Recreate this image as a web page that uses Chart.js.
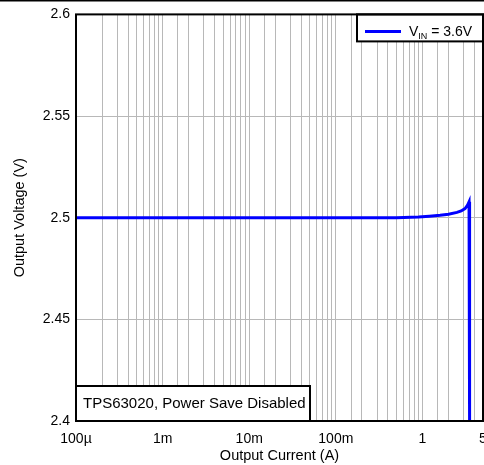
<!DOCTYPE html>
<html>
<head>
<meta charset="utf-8">
<script src="https://cdn.jsdelivr.net/npm/chart.js@4.4.0/dist/chart.umd.min.js"></script>
<style>
  html, body { margin: 0; padding: 0; background: #fff; }
  #wrap { width: 484px; height: 465px; position: relative; }
</style>
</head>
<body>
<div id="wrap"><canvas id="vout"></canvas></div>
<script>
// Output current (A) vs output voltage (V)
const currentA = [0.0001, 0.001, 0.01, 0.1, 0.5, 0.9, 1.2, 1.6, 2.0, 2.5, 2.8, 3.1, 3.3, 3.45, 3.5];
const voltageV = [2.5, 2.5, 2.5, 2.5, 2.5, 2.5003, 2.5007, 2.5012, 2.5017, 2.5026, 2.5033, 2.5045, 2.506, 2.5078, 2.4];

const xTickValues = [0.0001, 0.001, 0.01, 0.1, 1, 5];
const xTickLabels = ['100µ', '1m', '10m', '100m', '1', '5'];
const yTickValues = [2.4, 2.45, 2.5, 2.55, 2.6];
const yTickLabels = ['2.4', '2.45', '2.5', '2.55', '2.6'];

const seriesLabel = { main: 'V', sub: 'IN', rest: ' = 3.6V' };
const noteText = 'TPS63020, Power Save Disabled';

const FONT = 'Liberation Sans, Arial, sans-serif';
const BLUE = '#0000ff';
const GRID = '#b8b8b8';

function findLabel(values, labels, v, useLog) {
  for (let i = 0; i < values.length; i++) {
    const d = useLog ? Math.abs(Math.log10(v) - Math.log10(values[i])) : Math.abs(v - values[i]);
    if (d < 1e-6) return labels[i];
  }
  return '';
}

// legend box, note box and the plot frame
const boxesPlugin = {
  id: 'boxes',
  afterDraw(chart) {
    const { ctx, chartArea: a } = chart;
    ctx.save();

    // note box, bottom left
    const nw = 234, nh = 35;
    ctx.fillStyle = '#fff';
    ctx.fillRect(a.left, a.bottom - nh, nw, nh);
    ctx.strokeStyle = '#000';
    ctx.lineWidth = 2;
    ctx.strokeRect(a.left, a.bottom - nh, nw, nh);
    ctx.fillStyle = '#000';
    ctx.font = '15px ' + FONT;
    ctx.textBaseline = 'middle';
    ctx.textAlign = 'left';
    ctx.fillText(noteText, a.left + 7, a.bottom - 17);

    // legend box, top right
    const lw = 126, lh = 27;
    const lx = a.right - lw, ly = a.top;
    ctx.fillStyle = '#fff';
    ctx.fillRect(lx, ly, lw, lh);
    ctx.strokeRect(lx, ly, lw, lh);
    ctx.strokeStyle = BLUE;
    ctx.lineWidth = 3;
    ctx.beginPath();
    ctx.moveTo(lx + 8, ly + 17);
    ctx.lineTo(lx + 44, ly + 17);
    ctx.stroke();
    ctx.fillStyle = '#000';
    ctx.textBaseline = 'alphabetic';
    ctx.font = '14px ' + FONT;
    let tx = lx + 52;
    ctx.fillText(seriesLabel.main, tx, ly + 22);
    tx += ctx.measureText(seriesLabel.main).width;
    ctx.font = '9px ' + FONT;
    ctx.fillText(seriesLabel.sub, tx, ly + 25);
    tx += ctx.measureText(seriesLabel.sub).width;
    ctx.font = '14px ' + FONT;
    ctx.fillText(seriesLabel.rest, tx, ly + 22);

    // plot frame
    ctx.strokeStyle = '#000';
    ctx.lineWidth = 2;
    ctx.strokeRect(a.left, a.top, a.right - a.left, a.bottom - a.top);

    // thin line along the top of the picture
    ctx.fillStyle = '#000';
    ctx.fillRect(0, 0, chart.width, 1.5);
    ctx.restore();
  }
};

new Chart(document.getElementById('vout'), {
  type: 'line',
  data: {
    datasets: [{
      label: 'VIN = 3.6V',
      data: currentA.map((x, i) => ({ x: x, y: voltageV[i] })),
      borderColor: BLUE,
      borderWidth: 3,
      pointRadius: 0,
      tension: 0,
      fill: false
    }]
  },
  options: {
    responsive: true,
    maintainAspectRatio: false,
    animation: false,
    layout: { padding: { top: 14, right: 1, left: 0, bottom: 0 } },
    plugins: {
      legend: { display: false },
      tooltip: { enabled: false }
    },
    scales: {
      x: {
        type: 'logarithmic',
        min: 0.0001,
        max: 5,
        border: { display: false },
        grid: { color: GRID, lineWidth: 1, drawTicks: false },
        ticks: {
          autoSkip: false,
          maxRotation: 0,
          padding: 10,
          color: '#000',
          font: { family: FONT, size: 14 },
          callback: (v) => findLabel(xTickValues, xTickLabels, v, true)
        },
        title: {
          display: true,
          text: 'Output Current (A)',
          color: '#000',
          font: { family: FONT, size: 14.5 },
          padding: { top: 0, bottom: 0 }
        },
        afterFit: (s) => { s.height = 44; s.paddingLeft = 0; s.paddingRight = 0; }
      },
      y: {
        type: 'linear',
        min: 2.4,
        max: 2.6,
        border: { display: false },
        grid: { color: GRID, lineWidth: 1, drawTicks: false },
        ticks: {
          stepSize: 0.05,
          padding: 6,
          color: '#000',
          font: { family: FONT, size: 14 },
          callback: (v) => findLabel(yTickValues, yTickLabels, v, false)
        },
        title: {
          display: true,
          text: 'Output Voltage (V)',
          color: '#000',
          font: { family: FONT, size: 14.5 },
          padding: { top: 11, bottom: 0 }
        },
        afterFit: (s) => { s.width = 76; }
      }
    }
  },
  plugins: [boxesPlugin]
});
</script>
</body>
</html>
